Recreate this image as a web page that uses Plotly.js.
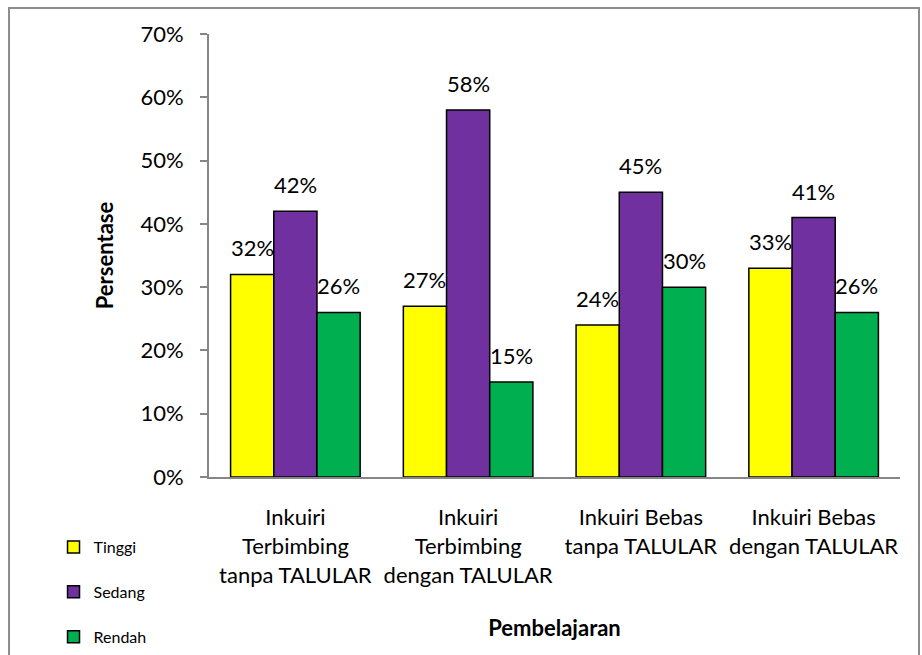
<!DOCTYPE html>
<html>
<head>
<meta charset="utf-8">
<script src="https://cdn.plot.ly/plotly-3.0.1.min.js"></script>
<style>html,body{margin:0;padding:0;background:#fff;}#chart{width:922px;height:655px;}</style>
</head>
<body>
<div id="chart"></div>
<script>
const categories = [
  "Inkuiri<br>Terbimbing<br>tanpa TALULAR",
  "Inkuiri<br>Terbimbing<br>dengan TALULAR",
  "Inkuiri Bebas<br>tanpa TALULAR",
  "Inkuiri Bebas<br>dengan TALULAR"
];
const seriesNames = ["Tinggi", "Sedang", "Rendah"];
const tinggi = [0.32, 0.27, 0.24, 0.33];
const sedang = [0.42, 0.58, 0.45, 0.41];
const rendah = [0.26, 0.15, 0.30, 0.26];
const seriesValues = [tinggi, sedang, rendah];
const seriesColors = ["#FFFF00", "#7030A0", "#00B050"];
const yTickVals = [0, 0.1, 0.2, 0.3, 0.4, 0.5, 0.6, 0.7];

const FONT = "Lato, 'Liberation Sans', sans-serif";
const traces = seriesValues.map((vals, i) => ({
  type: "bar",
  name: seriesNames[i],
  legendgroup: "g" + i,
  x: [0, 1, 2, 3],
  y: vals,
  marker: { color: seriesColors[i], line: { color: "#000", width: 1.5 } },
  hoverinfo: "skip"
}));

// data labels placed above each bar via the axis scales
const offsets = [-0.25, 0, 0.25];
const annotations = [];
seriesValues.forEach((vals, i) => {
  vals.forEach((v, j) => {
    annotations.push({
      x: j + offsets[i], y: v, xref: "x", yref: "y",
      text: Math.round(v * 100) + "%",
      showarrow: false, yanchor: "bottom", yshift: 11,
      font: { family: FONT, size: 22, color: "#000" }
    });
  });
});

const layout = {
  width: 922, height: 655,
  margin: { l: 209, r: 22, t: 34, b: 178, autoexpand: false },
  paper_bgcolor: "#fff", plot_bgcolor: "#fff",
  barmode: "group", bargap: 0.25, bargroupgap: 0,
  font: { family: FONT, size: 22, color: "#000" },
  xaxis: {
    type: "linear", range: [-0.5, 3.5], automargin: false,
    tickvals: [0, 1, 2, 3], ticktext: categories,
    showgrid: false, zeroline: false, showline: true,
    linecolor: "#868686", linewidth: 2, ticks: "", ticklabelstandoff: 20,
    tickfont: { family: FONT, size: 22, color: "#000" },
    title: { text: "<b>Pembelajaran</b>", font: { family: FONT, size: 22, color: "#000" }, standoff: 34 }
  },
  yaxis: {
    range: [0, 0.7], tickvals: yTickVals, tickformat: ".0%", automargin: false,
    showgrid: false, zeroline: false, showline: true,
    linecolor: "#868686", linewidth: 2, ticks: "outside", ticklen: 7,
    tickcolor: "#868686", tickwidth: 2, ticklabelstandoff: 12,
    tickfont: { family: FONT, size: 22, color: "#000" },
    title: { text: "<b>Persentase</b>", font: { family: FONT, size: 22, color: "#000" }, standoff: 21 }
  },
  showlegend: true,
  legend: {
    orientation: "v", x: -0.225, xanchor: "left", y: -0.12, yanchor: "top",
    traceorder: "grouped", tracegroupgap: 21,
    font: { family: FONT, size: 16, color: "#000" },
    bgcolor: "rgba(0,0,0,0)"
  },
  annotations: annotations,
  shapes: [{
    type: "rect", xref: "paper", yref: "paper",
    x0: -0.2894, x1: 1.0275, y0: -0.42, y1: 1.0587,
    line: { color: "#8c8c8c", width: 2 }, fillcolor: "rgba(0,0,0,0)", layer: "below"
  }]
};

Plotly.newPlot("chart", traces, layout, { displayModeBar: false, staticPlot: true });
</script>
</body>
</html>
